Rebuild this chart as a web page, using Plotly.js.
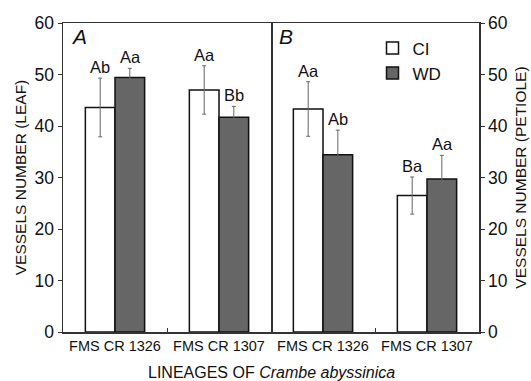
<!DOCTYPE html>
<html>
<head>
<meta charset="utf-8">
<script src="https://cdn.plot.ly/plotly-3.0.1.min.js"></script>
<style>html,body{margin:0;padding:0;background:#fff;}#chart{width:531px;height:381px;}</style>
</head>
<body>
<div id="chart"></div>
<script>
// ---- data ----
const categories = ["FMS CR 1326", "FMS CR 1307"];
const seriesNames = ["CI", "WD"];
// Panel A: leaf
const leafCI = [43.6, 47.0];
const leafCIErr = [5.7, 4.7];
const leafWD = [49.4, 41.7];
const leafWDErr = [1.8, 2.1];
const leafCILabels = ["Ab", "Aa"];
const leafWDLabels = ["Aa", "Bb"];
// Panel B: petiole
const petCI = [43.3, 26.5];
const petCIErr = [5.3, 3.6];
const petWD = [34.4, 29.7];
const petWDErr = [4.8, 4.6];
const petCILabels = ["Aa", "Ba"];
const petWDLabels = ["Ab", "Aa"];
const yTicks = [0, 10, 20, 30, 40, 50, 60];

const FONT = "Liberation Sans, Arial, sans-serif";
const ciColor = "#ffffff";
const wdColor = "#666666";
const errStyle = {type: "data", visible: true, color: "#666666", thickness: 1, width: 2};

function barTrace(x, y, err, name, color, xa, ya, showlegend) {
  return {
    type: "bar", x: x, y: y, name: name,
    xaxis: xa, yaxis: ya, showlegend: showlegend, legendgroup: name,
    marker: {color: color, line: {color: "#111111", width: 1.5}},
    error_y: Object.assign({array: err}, errStyle)
  };
}

const data = [
  barTrace(categories, leafCI, leafCIErr, seriesNames[0], ciColor, "x", "y", true),
  barTrace(categories, leafWD, leafWDErr, seriesNames[1], wdColor, "x", "y", true),
  barTrace(categories, petCI, petCIErr, seriesNames[0], ciColor, "x2", "y2", false),
  barTrace(categories, petWD, petWDErr, seriesNames[1], wdColor, "x2", "y2", false)
];

const annotations = [];
function addLabels(xref, yref, vals, errs, labels, shift) {
  for (let i = 0; i < vals.length; i++) {
    annotations.push({
      xref: xref, yref: yref, x: categories[i], y: vals[i] + errs[i],
      text: labels[i], showarrow: false, xanchor: "center", yanchor: "bottom",
      xshift: shift, yshift: 0, font: {family: FONT, size: 16.5, color: "#111"}
    });
  }
}
addLabels("x", "y", leafCI, leafCIErr, leafCILabels, -15);
addLabels("x", "y", leafWD, leafWDErr, leafWDLabels, 15);
addLabels("x2", "y2", petCI, petCIErr, petCILabels, -15);
addLabels("x2", "y2", petWD, petWDErr, petWDLabels, 15);

annotations.push({xref: "x domain", yref: "y domain", x: 0.03, y: 1.0, xanchor: "left", yanchor: "top",
  text: "<i>A</i>", showarrow: false, font: {family: FONT, size: 21, color: "#111"}});
annotations.push({xref: "x2 domain", yref: "y2 domain", x: 0.03, y: 1.0, xanchor: "left", yanchor: "top",
  text: "<i>B</i>", showarrow: false, font: {family: FONT, size: 21, color: "#111"}});
annotations.push({xref: "paper", yref: "paper", x: 0.5, y: -0.132, xanchor: "center", yanchor: "middle",
  text: "LINEAGES OF <i>Crambe abyssinica</i>", showarrow: false, font: {family: FONT, size: 16, color: "#111"}});

const xaxisBase = {
  type: "category", range: [-0.5, 1.5], showline: true, mirror: true, linecolor: "#333", linewidth: 1.5,
  ticks: "inside", tickson: "boundaries", ticklen: 4, tickcolor: "#333", showgrid: false, zeroline: false,
  tickangle: 0, tickfont: {family: FONT, size: 14.5, color: "#111"}, fixedrange: true
};
const yaxisBase = {
  range: [0, 60], tickvals: yTicks, showline: true, linecolor: "#333", linewidth: 1.5,
  ticks: "outside", ticklen: 4, tickcolor: "#333", showgrid: false, zeroline: false,
  tickfont: {family: FONT, size: 17.5, color: "#111"}, fixedrange: true
};

const layout = {
  width: 531, height: 381,
  margin: {l: 63, r: 52, t: 23, b: 49},
  paper_bgcolor: "#fff", plot_bgcolor: "#fff",
  barmode: "group", bargap: 0.43, bargroupgap: 0,
  font: {family: FONT, color: "#111"},
  xaxis: Object.assign({}, xaxisBase, {domain: [0, 0.5], anchor: "y"}),
  xaxis2: Object.assign({}, xaxisBase, {domain: [0.5, 1], anchor: "y2"}),
  yaxis: Object.assign({}, yaxisBase, {anchor: "x", side: "left", mirror: true,
    title: {text: "VESSELS NUMBER (LEAF)", font: {family: FONT, size: 15.5, color: "#111"}, standoff: 4}}),
  yaxis2: Object.assign({}, yaxisBase, {anchor: "x2", side: "right", mirror: false,
    title: {text: "VESSELS NUMBER (PETIOLE)", font: {family: FONT, size: 15.5, color: "#111"}, standoff: 8}}),
  legend: {x: 0.744, y: 0.976, xanchor: "left", yanchor: "top", bgcolor: "rgba(0,0,0,0)",
    font: {family: FONT, size: 17, color: "#111"}, itemwidth: 30, tracegroupgap: 0},
  annotations: annotations,
  showlegend: true
};

Plotly.newPlot("chart", data, layout, {staticPlot: true, displayModeBar: false});
</script>
</body>
</html>
